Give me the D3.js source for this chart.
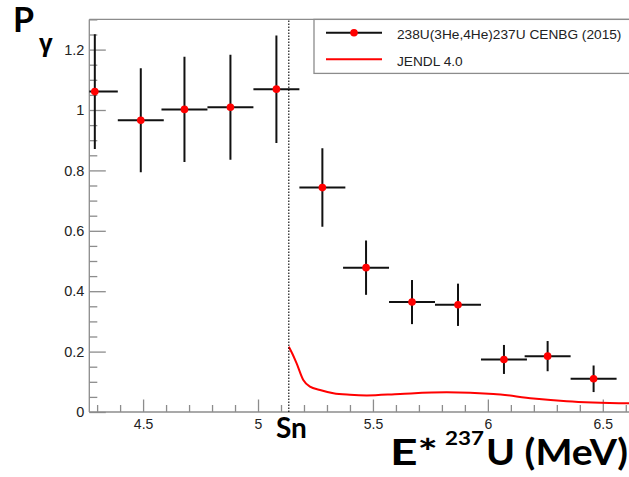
<!DOCTYPE html>
<html>
<head>
<meta charset="utf-8">
<script src="https://cdn.jsdelivr.net/npm/d3@7"></script>
<style>
  html, body { margin: 0; padding: 0; background: #fff; }
  svg { display: block; }
</style>
</head>
<body>
<svg id="chart" width="629" height="477"></svg>
<script>
// ---- data ----
const energy   = [4.29, 4.49, 4.68, 4.88, 5.08, 5.28, 5.47, 5.67, 5.87, 6.07, 6.26, 6.46];
const pGamma   = [1.061, 0.966, 1.002, 1.009, 1.069, 0.743, 0.478, 0.364, 0.355, 0.174, 0.185, 0.110];
const pGammaErr = [0.190, 0.172, 0.174, 0.174, 0.178, 0.130, 0.090, 0.073, 0.070, 0.048, 0.050, 0.044];
const energyErr = [0.1, 0.1, 0.1, 0.1, 0.1, 0.1, 0.1, 0.1, 0.1, 0.1, 0.1, 0.1];

const jendlE = [5.134, 5.150, 5.168, 5.197, 5.226, 5.270, 5.328, 5.40, 5.473, 5.618, 5.821, 6.024, 6.198, 6.343, 6.614];
const jendlP = [0.216, 0.192, 0.161, 0.106, 0.084, 0.073, 0.062, 0.057, 0.055, 0.060, 0.065, 0.060, 0.045, 0.036, 0.029];

const sn = 5.134;
const xMajorTicks = [4.5, 5, 5.5, 6, 6.5];
const xTickLabels = ["4.5", "5", "5.5", "6", "6.5"];
const yMajorTicks = [0, 0.2, 0.4, 0.6, 0.8, 1, 1.2];
const yTickLabels = ["0", "0.2", "0.4", "0.6", "0.8", "1", "1.2"];
const legendLabels = ["238U(3He,4He)237U CENBG (2015)", "JENDL 4.0"];

// ---- layout ----
const svg = d3.select("#chart");
const L = 89.3, R = 629, T = 19.4, B = 412;
const x = d3.scaleLinear().domain([4.266, 6.614]).range([L, R]);
const y = d3.scaleLinear().domain([0, 1.3]).range([B, T]);

const grey = "#8c8c8c";
const tickFont = "'Liberation Sans', Arial, Helvetica, sans-serif";

svg.append("defs").append("clipPath").attr("id", "plotclip")
  .append("rect").attr("x", L).attr("y", T).attr("width", R - L + 10).attr("height", B - T);

// frame (top)
svg.append("line").attr("x1", L).attr("x2", 640).attr("y1", T).attr("y2", T)
  .attr("stroke", grey).attr("stroke-width", 1.3);

// x axis major
const xAxis = d3.axisBottom(x).tickValues(xMajorTicks)
  .tickFormat((d, i) => xTickLabels[i]).tickSizeInner(-12.5).tickSizeOuter(0).tickPadding(7);
const gx = svg.append("g").attr("transform", `translate(0,${B})`).call(xAxis);
gx.select(".domain").attr("stroke", grey).attr("stroke-width", 1.3).attr("d", `M${L},0H640`);
gx.selectAll(".tick line").attr("stroke", grey).attr("stroke-width", 1.3);
gx.selectAll("text").attr("font-family", tickFont).attr("font-size", 14).attr("fill", "#222");

// x axis minor
const xMinor = d3.range(43, 67).map(v => v / 10).filter(v => !xMajorTicks.some(m => Math.abs(m - v) < 1e-6));
const xAxisMinor = d3.axisBottom(x).tickValues(xMinor).tickFormat("").tickSizeInner(-7).tickSizeOuter(0);
const gxm = svg.append("g").attr("transform", `translate(0,${B})`).call(xAxisMinor);
gxm.select(".domain").remove();
gxm.selectAll(".tick line").attr("stroke", grey).attr("stroke-width", 1.3);

// y axis major
const yAxis = d3.axisLeft(y).tickValues(yMajorTicks)
  .tickFormat((d, i) => yTickLabels[i]).tickSizeInner(-16.5).tickSizeOuter(0).tickPadding(5);
const gy = svg.append("g").attr("transform", `translate(${L},0)`).call(yAxis);
gy.select(".domain").attr("stroke", grey).attr("stroke-width", 1.3).attr("d", `M0,${B}V${T}`);
gy.selectAll(".tick line").attr("stroke", grey).attr("stroke-width", 1.3);
gy.selectAll("text").attr("font-family", tickFont).attr("font-size", 14.5).attr("fill", "#222");

// y axis minor
const yMinor = d3.range(0, 27).map(v => v * 0.05).filter(v => !yMajorTicks.some(m => Math.abs(m - v) < 1e-6));
const yAxisMinor = d3.axisLeft(y).tickValues(yMinor).tickFormat("").tickSizeInner(-8).tickSizeOuter(0);
const gym = svg.append("g").attr("transform", `translate(${L},0)`).call(yAxisMinor);
gym.select(".domain").remove();
gym.selectAll(".tick line").attr("stroke", grey).attr("stroke-width", 1.3);

const plot = svg.append("g").attr("clip-path", "url(#plotclip)");

// JENDL curve
plot.append("path")
  .datum(jendlE.map((e, i) => [e, jendlP[i]]))
  .attr("fill", "none").attr("stroke", "#ff0000").attr("stroke-width", 2)
  .attr("d", d3.line().x(d => x(d[0])).y(d => y(d[1])).curve(d3.curveMonotoneX));

// Sn dotted line
svg.append("line").attr("x1", x(sn)).attr("x2", x(sn)).attr("y1", B).attr("y2", T)
  .attr("stroke", "#000").attr("stroke-width", 1.1).attr("stroke-dasharray", "1.5,1.5");

// data error bars
const pts = energy.map((e, i) => ({ e, p: pGamma[i], dp: pGammaErr[i], de: energyErr[i] }));
const eb = plot.append("g").attr("stroke", "#111").attr("stroke-width", 2);
eb.selectAll("line.h").data(pts).enter().append("line").attr("class", "h")
  .attr("x1", d => x(d.e - d.de)).attr("x2", d => x(d.e + d.de))
  .attr("y1", d => y(d.p)).attr("y2", d => y(d.p));
eb.selectAll("line.v").data(pts).enter().append("line").attr("class", "v")
  .attr("x1", d => x(d.e)).attr("x2", d => x(d.e))
  .attr("y1", d => y(d.p - d.dp)).attr("y2", d => y(d.p + d.dp));
plot.selectAll("circle.pt").data(pts).enter().append("circle").attr("class", "pt")
  .attr("cx", d => x(d.e)).attr("cy", d => y(d.p)).attr("r", 3.8).attr("fill", "#ff0000");

// legend
const lg = svg.append("g");
lg.append("rect").attr("x", 314).attr("y", T).attr("width", 330).attr("height", 54)
  .attr("fill", "#fff").attr("stroke", grey).attr("stroke-width", 1.3);
lg.append("line").attr("x1", 326).attr("x2", 382).attr("y1", 32.7).attr("y2", 32.7)
  .attr("stroke", "#111").attr("stroke-width", 2);
lg.append("circle").attr("cx", 354).attr("cy", 32.7).attr("r", 3.8).attr("fill", "#ff0000");
lg.append("line").attr("x1", 326).attr("x2", 382).attr("y1", 59.3).attr("y2", 59.3)
  .attr("stroke", "#ff0000").attr("stroke-width", 2);
lg.selectAll("text").data(legendLabels).enter().append("text")
  .attr("x", 397).attr("y", (d, i) => i === 0 ? 38.5 : 65.5)
  .attr("font-family", tickFont).attr("font-size", 13.7).attr("fill", "#222")
  .text(d => d);

// big labels
const bigFont = "Lato, 'Open Sans', sans-serif";
svg.append("text").attr("x", 13).attr("y", 32).attr("font-family", bigFont)
  .attr("font-weight", 700).attr("font-size", 34).attr("fill", "#000").text("P");
svg.append("text").attr("x", 39).attr("y", 51).attr("font-family", "'Open Sans', sans-serif")
  .attr("font-weight", 700).attr("font-size", 24).attr("fill", "#000").text("γ");

svg.append("text").attr("x", 276).attr("y", 438).attr("font-family", bigFont)
  .attr("font-weight", 700).attr("font-size", 28).attr("fill", "#000").text("Sn");

svg.append("text").attr("x", 390).attr("y", 465).attr("font-family", bigFont)
  .attr("font-weight", 700).attr("font-size", 37).attr("fill", "#000")
  .attr("textLength", 48).attr("lengthAdjust", "spacingAndGlyphs").text("E*");
svg.append("text").attr("x", 445).attr("y", 445).attr("font-family", bigFont)
  .attr("font-weight", 700).attr("font-size", 19.5).attr("fill", "#000")
  .attr("textLength", 39).attr("lengthAdjust", "spacingAndGlyphs").text("237");
svg.append("text").attr("x", 486).attr("y", 465).attr("font-family", bigFont)
  .attr("font-weight", 700).attr("font-size", 37).attr("fill", "#000")
  .attr("textLength", 142).attr("lengthAdjust", "spacingAndGlyphs").text("U (MeV)");
</script>
</body>
</html>
